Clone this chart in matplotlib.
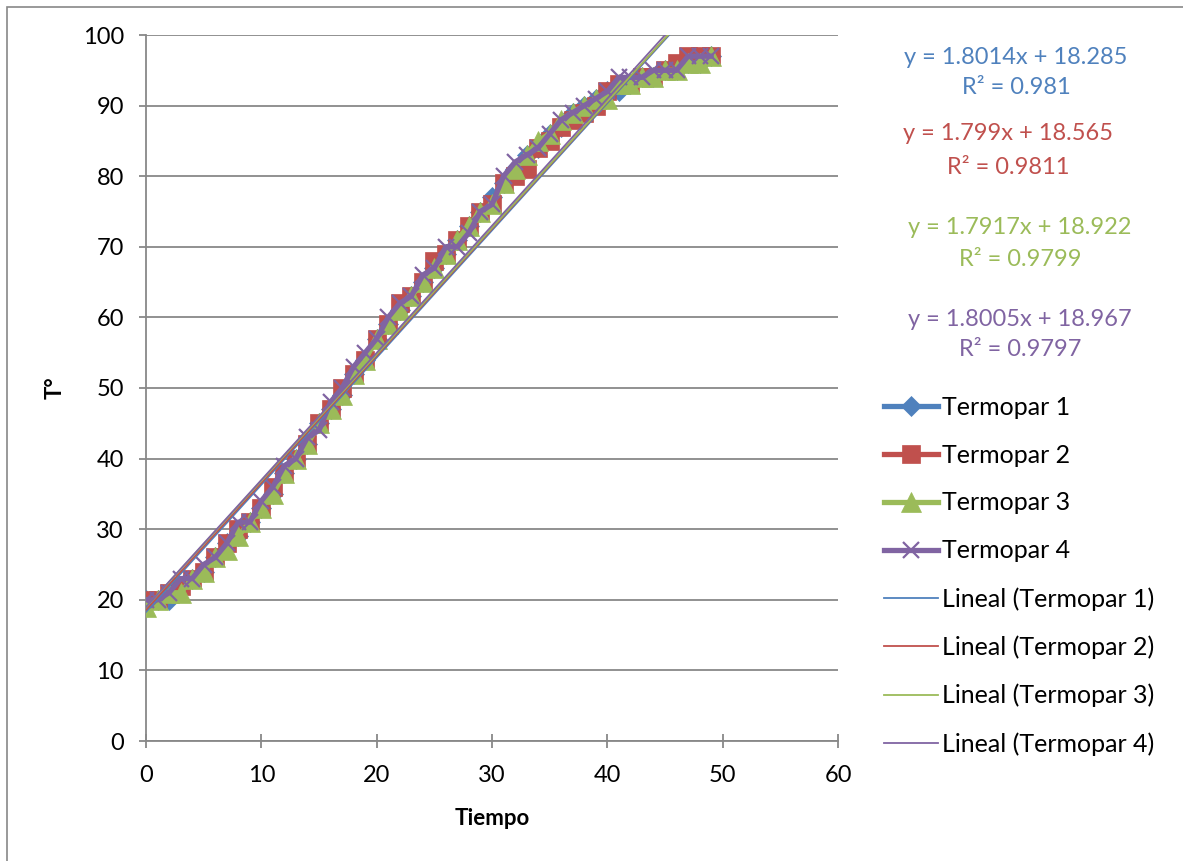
import numpy as np
import matplotlib.pyplot as plt
from matplotlib.patches import Rectangle

plt.rcParams['font.family'] = ['Lato', 'DejaVu Sans']

# tiempo (s) y lecturas de los cuatro termopares
tiempo = list(range(50))
termopar1 = [20, 20, 20, 22, 23, 24, 26, 28, 29, 31,
             33, 35, 38, 40, 42, 45, 47, 49, 52, 54,
             57, 59, 61, 63, 65, 67, 69, 71, 73, 75,
             77, 79, 81, 83, 84, 86, 87, 89, 90, 91,
             92, 92, 93, 94, 94, 95, 95, 96, 96, 97]
termopar2 = [20, 20, 21, 22, 23, 24, 26, 28, 30, 31,
             33, 36, 38, 40, 42, 45, 47, 50, 52, 54,
             57, 59, 62, 63, 65, 68, 69, 71, 73, 75,
             76, 79, 80, 81, 84, 85, 87, 88, 89, 90,
             92, 93, 93, 94, 94, 95, 96, 97, 97, 97]
termopar3 = [19, 20, 21, 21, 23, 24, 26, 27, 29, 31,
             33, 35, 38, 40, 42, 45, 47, 49, 52, 54,
             57, 59, 61, 63, 65, 67, 69, 71, 73, 75,
             76, 79, 81, 83, 85, 86, 88, 89, 90, 91,
             91, 93, 93, 94, 94, 95, 95, 96, 96, 97]
termopar4 = [20, 20, 21, 23, 23, 25, 26, 28, 31, 31,
             34, 36, 39, 40, 43, 44, 48, 50, 53, 55,
             57, 60, 62, 63, 66, 67, 70, 70, 72, 75,
             76, 80, 82, 83, 84, 86, 88, 89, 90, 91,
             92, 94, 94, 94, 95, 95, 95, 97, 97, 97]

# coeficientes de las lineas de tendencia (del grafico)
pendientes = [1.8014, 1.799, 1.7917, 1.8005]
interceptos = [18.285, 18.565, 18.922, 18.967]
r2 = ['0.981', '0.9811', '0.9799', '0.9797']
ecuaciones = ['y = 1.8014x + 18.285', 'y = 1.799x + 18.565',
              'y = 1.7917x + 18.922', 'y = 1.8005x + 18.967']

colores = ['#4F81BD', '#C0504D', '#9BBB59', '#8064A2']
marcadores = ['D', 's', '^', 'x']
tamanos = [10, 13, 14, 11]

fig = plt.figure(figsize=(11.83, 8.61), dpi=100)
ax = fig.add_axes([146/1183, 1-741/861, (838-146)/1183, (741-35)/861])

series = [termopar1, termopar2, termopar3, termopar4]
for i, s in enumerate(series):
    ax.plot(tiempo, s, color=colores[i], lw=3.8, marker=marcadores[i],
            ms=tamanos[i], mew=1.6 if marcadores[i] == 'x' else 0.5,
            mec=colores[i], label='Termopar %d' % (i + 1), zorder=3)

xt = np.array([0, 49])
for i in range(4):
    ax.plot(xt, pendientes[i]*xt + interceptos[i], color=colores[i], lw=1.3,
            label='Lineal (Termopar %d)' % (i + 1), zorder=4)

ax.set_xlim(0, 60)
ax.set_ylim(0, 100)
ax.set_xticks(range(0, 61, 10))
ax.set_yticks(range(0, 101, 10))
ax.yaxis.grid(True, color='#888888', lw=1.3)
ax.set_axisbelow(True)
for sp in ['top', 'right']:
    ax.spines[sp].set_visible(False)
for sp in ['left', 'bottom']:
    ax.spines[sp].set_color('#888888')
    ax.spines[sp].set_linewidth(1.3)
ax.tick_params(axis='both', labelsize=17, color='#888888', width=1.3)
ax.tick_params(axis='y', length=5, pad=11)
ax.tick_params(axis='x', direction='inout', length=10, pad=12)
ax.set_xlabel('Tiempo', fontsize=16, fontweight='bold', labelpad=16)
ax.set_ylabel('T°', fontsize=16, fontweight='bold', labelpad=12)

# ecuaciones de las tendencias
ys = [(58, 88), (134, 167), (228, 259), (319, 350)]
xs = [1016, 1008, 1020, 1020]
for i in range(4):
    fig.text(xs[i]/1183, 1 - ys[i][0]/861, ecuaciones[i], color=colores[i],
             fontsize=17, ha='center', va='center')
    fig.text(xs[i]/1183, 1 - ys[i][1]/861, 'R² = ' + r2[i], color=colores[i],
             fontsize=17, ha='center', va='center')

fig.legend(loc='upper left', bbox_to_anchor=(884/1183, 1 - 396/861),
           frameon=False, fontsize=18, handlelength=2.15, handletextpad=0.15,
           labelspacing=0.99, borderaxespad=0, borderpad=0)

fig.patches.append(Rectangle((7/1183, -0.01), 1.2, 1 - 7/861 + 0.01,
                             transform=fig.transFigure, fill=False,
                             ec='#888888', lw=1.2))

fig.savefig('out.png', dpi=100)
